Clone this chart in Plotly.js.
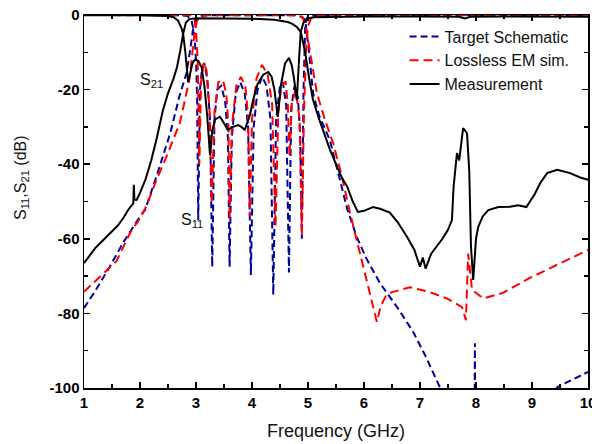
<!DOCTYPE html>
<html>
<head>
<meta charset="utf-8">
<script src="https://cdn.plot.ly/plotly-3.0.1.min.js"></script>
<style>html,body{margin:0;padding:0;background:#fff;}#chart{width:592px;height:444px;}</style>
</head>
<body>
<div id="chart"></div>
<script>
// ---- Data (frequency in GHz, magnitude in dB) ----
const tgt21X = [1.0,1.2,1.46,1.7,2.0,2.09,2.3,2.54,2.7,2.83,2.9,2.95,3.01,3.08,3.2,4.8,4.88,4.95,5.02,5.09,5.2,5.39,5.55,5.7,5.87,6.05,6.29,6.6,6.88,7.1,7.33,7.6,7.97,7.98,7.99,8.5,9.0,9.46,10.0];
const tgt21Y = [-78.6,-74,-67.5,-61,-54,-52.3,-43,-31.7,-22,-15.6,-9,-3.5,-1.3,-0.3,-0.05,-0.05,-0.5,-1.3,-10,-21,-27,-33.5,-43,-52,-59.5,-65.5,-72,-78.5,-85,-91.5,-99,-107,-125,-88,-125,-115,-106,-99.7,-95.7];

const tgt11X = [1.0,2.7,2.85,2.92,2.97,3.0,3.02,3.04,3.07,3.11,3.15,3.2,3.25,3.29,3.33,3.38,3.45,3.52,3.57,3.6,3.64,3.71,3.79,3.87,3.93,3.98,4.03,4.1,4.18,4.26,4.33,4.38,4.43,4.5,4.55,4.61,4.66,4.7,4.76,4.82,4.86,4.89,4.92,4.95,4.98,5.05,6.0,10.0];
const tgt11Y = [0,-0.05,-0.3,-1.5,-5,-12,-22,-55,-20,-14,-13,-17,-28,-67.5,-28,-20,-19,-23,-33,-67.5,-33,-21,-18,-21,-30,-69.7,-30,-20,-16.5,-19,-28,-75,-28,-19,-18,-24,-69,-25,-19,-22,-32,-60,-20,-3,-0.8,-0.2,-0.02,0];

const em21X = [1.0,1.29,1.58,1.82,2.0,2.12,2.3,2.5,2.71,2.8,2.89,2.95,2.98,3.02,3.08,3.2,4.8,4.9,4.95,4.98,5.07,5.16,5.3,5.45,5.6,5.75,5.93,6.11,6.23,6.3,6.4,6.5,6.82,7.18,7.48,7.75,7.82,7.86,7.93,8.13,8.48,8.96,9.5,10.0];
const em21Y = [-74.2,-70,-66,-58.5,-54.5,-51,-44,-37,-29,-23,-16.6,-8,-4,-1.5,-0.4,-0.1,-0.1,-0.5,-2.5,-4.8,-13,-21,-28,-34.4,-43,-53,-64,-74.5,-82.3,-78,-75,-74.3,-73,-74.3,-76,-78.3,-81.8,-64,-73.7,-76,-74.5,-70.5,-66.5,-63];

const em11X = [1.0,2.9,2.97,3.0,3.03,3.06,3.09,3.14,3.19,3.24,3.28,3.33,3.4,3.48,3.54,3.58,3.6,3.64,3.72,3.8,3.88,3.93,3.96,4.0,4.08,4.18,4.28,4.36,4.42,4.47,4.53,4.6,4.64,4.67,4.71,4.78,4.85,4.89,4.93,4.97,5.0,5.05,5.15,6.0,10.0];
const em11Y = [0,-0.1,-1,-4,-12,-40,-18,-12.6,-15,-25,-50.5,-26,-18,-17.4,-21,-30,-55,-30,-19,-16.6,-19,-27,-54,-28,-17,-13.4,-16,-24,-56.8,-26,-18.5,-18,-24,-38,-24,-20,-28,-59,-25,-8,-3,-1,-0.3,-0.1,-0.1];

const meas21X = [1.0,1.1,1.2,1.3,1.46,1.6,1.7,1.8,1.88,1.89,1.9,1.94,2.0,2.1,2.2,2.3,2.41,2.5,2.6,2.66,2.72,2.77,2.82,2.88,3.0,3.5,4.0,4.4,4.64,4.72,4.8,4.87,4.95,5.02,5.09,5.2,5.39,5.5,5.6,5.7,5.8,5.89,6.0,6.16,6.3,6.46,6.6,6.77,6.9,7.0,7.05,7.1,7.2,7.3,7.4,7.5,7.57,7.6,7.66,7.7,7.74,7.77,7.84,7.88,7.91,7.95,8.0,8.04,8.12,8.22,8.4,8.61,8.75,8.9,9.05,9.15,9.27,9.45,9.68,9.85,10.0];
const meas21Y = [-66.5,-64.5,-62.5,-61,-58.5,-56.5,-54.5,-52,-50.5,-45.5,-49.5,-49.6,-47.7,-44,-39,-33,-25.5,-21,-17,-14,-9.5,-5,-2,-1.1,-0.9,-0.9,-1,-1.3,-1.9,-2.4,-3.2,-4.5,-10,-17,-22.8,-28,-36,-40,-43.5,-46,-50,-52.8,-52.5,-51.5,-52,-53,-55.5,-59.5,-63,-67.5,-65,-68,-64,-62,-60,-57.6,-55,-46,-37,-39,-33,-30.3,-31.7,-42,-62,-71,-60,-56.8,-54,-52.3,-51.5,-51.4,-51,-51.5,-48,-45,-42.4,-41.5,-42.4,-43.5,-44.2];

const meas11X = [1.0,2.0,2.5,2.6,2.68,2.74,2.77,2.81,2.86,2.9,2.94,2.98,3.04,3.1,3.15,3.2,3.25,3.29,3.34,3.43,3.5,3.57,3.66,3.75,3.81,3.87,3.96,4.02,4.1,4.2,4.29,4.35,4.4,4.46,4.52,4.59,4.66,4.71,4.75,4.8,4.84,4.87,4.92,4.98,5.1,6.0,7.0,7.7,7.8,7.9,8.5,10.0];
const meas11Y = [-0.1,-0.1,-0.3,-0.6,-1.5,-3.5,-5,-10,-18,-15,-12.8,-12,-12.3,-14,-19,-27,-37.5,-31,-28,-27.3,-29,-30.8,-30,-29.5,-30,-30.8,-27,-22.8,-18.5,-16,-15.3,-16.5,-20,-27.3,-18.5,-13,-11.5,-13.5,-17,-22.8,-12,-4.5,-2,-1,-0.6,-0.4,-0.4,-0.5,-0.9,-0.5,-0.4,-0.5];

const legendNames = ['Target Schematic', 'Lossless EM sim.', 'Measurement'];
const yTickVals = [-100,-80,-60,-40,-20,0];
const yTickText = ['-100','-80','-60','-40','-20','0'];
const xTickVals = [1,2,3,4,5,6,7,8,9,10];
const xTickText = ['1','2','3','4','5','6','7','8','9','10'];

const BLUE = '#00009c', RED = '#ff0000', BLACK = '#000000';
const blueLine = {color: BLUE, width: 2, dash: '7px,4px'};
const redLine = {color: RED, width: 2, dash: '9px,5px'};
const blackLine = {color: BLACK, width: 2};

const traces = [
  {x: tgt11X, y: tgt11Y, mode: 'lines', line: blueLine, name: legendNames[0], legendgroup: 'a', showlegend: true},
  {x: tgt21X, y: tgt21Y, mode: 'lines', line: blueLine, name: legendNames[0], legendgroup: 'a', showlegend: false},
  {x: em11X, y: em11Y, mode: 'lines', line: redLine, name: legendNames[1], legendgroup: 'b', showlegend: true},
  {x: em21X, y: em21Y, mode: 'lines', line: redLine, name: legendNames[1], legendgroup: 'b', showlegend: false},
  {x: meas11X, y: meas11Y, mode: 'lines', line: blackLine, name: legendNames[2], legendgroup: 'c', showlegend: true},
  {x: meas21X, y: meas21Y, mode: 'lines', line: blackLine, name: legendNames[2], legendgroup: 'c', showlegend: false}
];

const FONT = 'Arial, "Liberation Sans", sans-serif';
const bold = s => '<b>' + s + '</b>';
const axisCommon = {
  showline: true, linecolor: '#000', linewidth: 1.5, mirror: 'allticks',
  ticks: 'inside', ticklen: 6, tickwidth: 1.5, tickcolor: '#000',
  showgrid: false, zeroline: false, ticklabeloverflow: 'allow',
  tickfont: {family: FONT, size: 15, color: '#000', weight: 'bold'}
};

const pw = 592 - 84 - 4, ph = 444 - 15 - 56;

const layout = {
  width: 592, height: 444,
  margin: {l: 84, r: 4, t: 15, b: 56},
  paper_bgcolor: '#fff', plot_bgcolor: '#fff',
  font: {family: FONT, color: '#000'},
  showlegend: true,
  legend: {x: 0.636, y: 0.988, xanchor: 'left', yanchor: 'top', bgcolor: 'rgba(0,0,0,0)',
           font: {family: FONT, size: 16, color: '#111'}, tracegroupgap: 0},
  xaxis: Object.assign({}, axisCommon, {
    range: [1, 10], tickmode: 'array', tickvals: xTickVals, ticktext: xTickText.map(bold),
    minor: {tickmode: 'linear', tick0: 1.5, dtick: 1, ticks: 'inside', ticklen: 4, tickwidth: 1.5, tickcolor: '#000', showgrid: false}
  }),
  yaxis: Object.assign({}, axisCommon, {
    range: [-100, 0], tickmode: 'array', tickvals: yTickVals, ticktext: yTickText.map(bold),
    minor: {tickmode: 'linear', tick0: -90, dtick: 20, ticks: 'inside', ticklen: 4, tickwidth: 1.5, tickcolor: '#000', showgrid: false}
  }),
  annotations: [
    {x: 1.97, y: -17.5, xref: 'x', yref: 'y', xanchor: 'left', yanchor: 'middle', showarrow: false,
     text: 'S<sub>21</sub>', font: {family: FONT, size: 16, color: '#111'}},
    {x: 2.7, y: -55, xref: 'x', yref: 'y', xanchor: 'left', yanchor: 'middle', showarrow: false,
     text: 'S<sub>11</sub>', font: {family: FONT, size: 16, color: '#111'}},
    {x: (336 - 84) / pw, y: -(431 - 388) / ph, xref: 'paper', yref: 'paper', xanchor: 'center', yanchor: 'middle',
     showarrow: false, text: 'Frequency (GHz)', font: {family: FONT, size: 18, color: '#111'}},
    {x: (22 - 84) / pw, y: (388 - 178) / ph, xref: 'paper', yref: 'paper', xanchor: 'center', yanchor: 'middle',
     textangle: -90, showarrow: false, text: 'S<sub>11</sub>,S<sub>21</sub> (dB)', font: {family: FONT, size: 16, color: '#111'}}
  ]
};

Plotly.newPlot('chart', traces, layout, {staticPlot: true, displayModeBar: false});
</script>
</body>
</html>
